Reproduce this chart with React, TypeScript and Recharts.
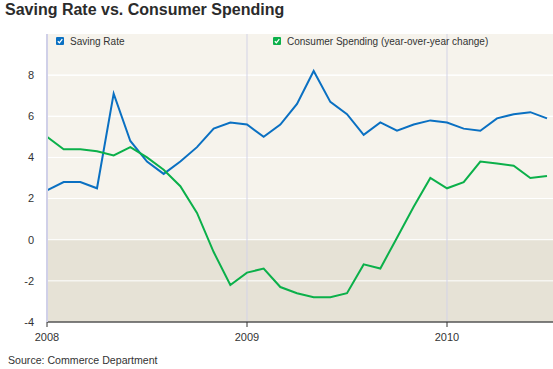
import {
  LineChart,
  Line,
  XAxis,
  YAxis,
  CartesianGrid,
  ReferenceArea,
  ReferenceLine,
} from "recharts";

// months since Jan 2008
const months = [
  0, 1, 2, 3, 4, 5, 6, 7, 8, 9, 10, 11, 12, 13, 14, 15, 16, 17, 18, 19, 20,
  21, 22, 23, 24, 25, 26, 27, 28, 29, 30,
];
const savingRate = [
  2.4, 2.8, 2.8, 2.5, 7.1, 4.8, 3.8, 3.2, 3.8, 4.5, 5.4, 5.7, 5.6, 5.0, 5.6,
  6.6, 8.2, 6.7, 6.1, 5.1, 5.7, 5.3, 5.6, 5.8, 5.7, 5.4, 5.3, 5.9, 6.1, 6.2,
  5.9,
];
const consumerSpending = [
  5.0, 4.4, 4.4, 4.3, 4.1, 4.5, 4.0, 3.4, 2.6, 1.3, -0.6, -2.2, -1.6, -1.4,
  -2.3, -2.6, -2.8, -2.8, -2.6, -1.2, -1.4, 0.1, 1.6, 3.0, 2.5, 2.8, 3.8, 3.7,
  3.6, 3.0, 3.1,
];
const yTicks = [-4, -2, 0, 2, 4, 6, 8];
const xTicks = [0, 12, 24];
const yearLabels: Record<number, string> = { 0: "2008", 12: "2009", 24: "2010" };

const BLUE = "#0a70c2";
const GREEN = "#0bb04a";

const data = months.map((m, i) => ({
  m,
  saving: savingRate[i],
  spending: consumerSpending[i],
}));

const legendItems = [
  { label: "Saving Rate", color: BLUE, left: 56 },
  { label: "Consumer Spending (year-over-year change)", color: GREEN, left: 273 },
];

const CheckBox = ({ color }: { color: string }) => (
  <svg width={8} height={8} style={{ position: "absolute", left: 0, top: 2 }}>
    <rect x={0} y={0} width={8} height={8} rx={1} fill={color} />
    <path d="M1.8 4.2 L3.4 5.8 L6.3 2.2" stroke="#fff" strokeWidth={1.3} fill="none" />
  </svg>
);

export default function App() {
  return (
    <div
      style={{
        position: "absolute",
        left: 0,
        top: 0,
        width: 553,
        height: 369,
        background: "#fff",
        fontFamily: "Arial, 'Liberation Sans', Helvetica, sans-serif",
        overflow: "hidden",
      }}
    >
      <div
        style={{
          position: "absolute",
          left: 5,
          top: 1,
          fontSize: 16,
          fontWeight: "bold",
          color: "#2b2b2b",
          whiteSpace: "nowrap",
        }}
      >
        Saving Rate vs. Consumer Spending
      </div>
      <div style={{ position: "absolute", left: 0, top: 0 }}>
        <LineChart
          width={553}
          height={369}
          data={data}
          margin={{ top: 34, right: 0, bottom: 0, left: 0 }}
        >
          <CartesianGrid
            vertical={false}
            stroke="#ffffff"
            strokeWidth={1}
            fill="#f6f3ec"
            horizontalValues={yTicks}
          />
          <ReferenceArea y1={0} y2={2} fill="#f1eee6" fillOpacity={1} stroke="none" ifOverflow="hidden" />
          <ReferenceArea y1={-4} y2={0} fill="#e6e2d6" fillOpacity={1} stroke="none" ifOverflow="hidden" />
          {yTicks.slice(1).map((t) => (
            <ReferenceLine key={t} y={t} stroke="#ffffff" strokeWidth={1} />
          ))}
          <ReferenceLine x={12} stroke="#d3d3e6" strokeWidth={1} />
          <ReferenceLine x={24} stroke="#d3d3e6" strokeWidth={1} />
          <XAxis
            dataKey="m"
            type="number"
            domain={[0, 30.36]}
            ticks={xTicks}
            tickFormatter={(v: number) => yearLabels[v] ?? ""}
            height={47}
            allowDataOverflow
            axisLine={{ stroke: "#555", strokeWidth: 1.5 }}
            tickLine={{ stroke: "#333" }}
            tickSize={5}
            tickMargin={6}
            tick={{ fontSize: 11, fill: "#333" }}
            interval={0}
          />
          <YAxis
            type="number"
            domain={[-4, 10]}
            ticks={yTicks}
            width={47}
            axisLine={{ stroke: "#d0d0e8", strokeWidth: 2 }}
            tickLine={false}
            tickSize={0}
            tickMargin={13}
            tick={{ fontSize: 11, fill: "#333" }}
            interval={0}
          />
          <Line
            dataKey="saving"
            stroke={BLUE}
            strokeWidth={2}
            dot={false}
            isAnimationActive={false}
          />
          <Line
            dataKey="spending"
            stroke={GREEN}
            strokeWidth={2}
            dot={false}
            isAnimationActive={false}
          />
        </LineChart>
      </div>
      {legendItems.map((it) => (
        <div
          key={it.label}
          style={{
            position: "absolute",
            left: it.left,
            top: 35,
            paddingLeft: 14,
            fontSize: 10,
            lineHeight: "14px",
            color: "#333",
            whiteSpace: "nowrap",
          }}
        >
          <CheckBox color={it.color} />
          {it.label}
        </div>
      ))}
      <div
        style={{
          position: "absolute",
          left: 8,
          top: 354,
          fontSize: 10.6,
          color: "#333",
          whiteSpace: "nowrap",
        }}
      >
        Source: Commerce Department
      </div>
    </div>
  );
}
